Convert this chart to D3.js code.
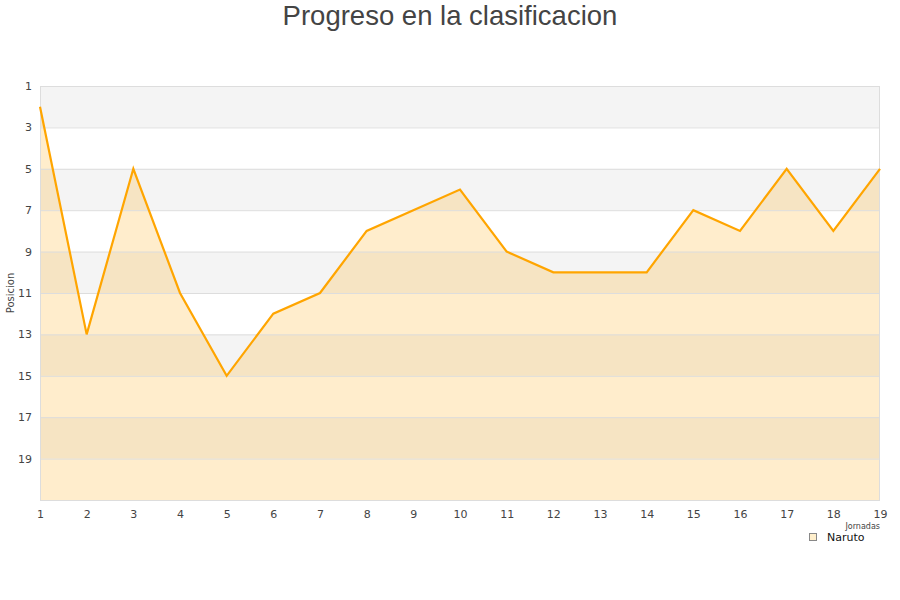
<!DOCTYPE html>
<html><head><meta charset="utf-8">
<script src="https://cdn.jsdelivr.net/npm/d3@7/dist/d3.min.js"></script>
<style>body{margin:0;background:#fff;} svg{display:block;}</style>
</head><body>
<svg id="c" width="900" height="600"></svg>
<script>
const jornadas = [1,2,3,4,5,6,7,8,9,10,11,12,13,14,15,16,17,18,19];
const posiciones = [2,13,5,11,15,12,11,8,7,6,9,10,10,10,7,8,5,8,5];
const yTicks = [1,3,5,7,9,11,13,15,17,19];
const seriesName = "Naruto";
const title = "Progreso en la clasificacion";

const svg = d3.select("#c");
const m = {l:40, r:20, t:86, b:100};
const W = 900, H = 600;
const x = d3.scaleLinear().domain([1,19]).range([m.l, W-m.r]);
const y = d3.scaleLinear().domain([1,21]).range([m.t, H-m.b]);

// bands
const bands = d3.range(1,21,2);
svg.selectAll("rect.band").data(bands).join("rect")
  .attr("x", x(1)).attr("width", x(19)-x(1))
  .attr("y", d=>y(d)).attr("height", d=>y(d+2)-y(d))
  .attr("fill", (d,i)=> i%2===0 ? "#f4f4f4" : "#ffffff");

// area
const area = d3.area().x((d,i)=>x(jornadas[i])).y0(y(21)).y1(d=>y(d));
svg.append("path").datum(posiciones).attr("d", area)
  .attr("fill", "rgba(255,165,0,0.2)");

// grid lines
svg.selectAll("line.grid").data(yTicks.concat([21])).join("line")
  .attr("x1", x(1)).attr("x2", x(19))
  .attr("y1", d=>y(d)+0.5).attr("y2", d=>y(d)+0.5)
  .attr("stroke", "#dddddd").attr("stroke-width", 1);
svg.append("rect").attr("x", x(1)+0.5).attr("y", y(1)+0.5)
  .attr("width", x(19)-x(1)-1).attr("height", y(21)-y(1))
  .attr("fill","none").attr("stroke","#dddddd");

// line
const line = d3.line().x((d,i)=>x(jornadas[i])).y(d=>y(d));
svg.append("path").datum(posiciones).attr("d", line)
  .attr("fill","none").attr("stroke","#FFA500").attr("stroke-width",2.2)
  .attr("stroke-linejoin","miter");

// axes
const yAxis = d3.axisLeft(y).tickValues(yTicks).tickSize(0).tickPadding(8);
const gy = svg.append("g").attr("transform",`translate(${m.l},0)`).call(yAxis);
gy.select(".domain").remove();
gy.selectAll("text").attr("font-family","DejaVu Sans, sans-serif").attr("font-size",11).attr("fill","#444");

const xAxis = d3.axisBottom(x).tickValues(jornadas).tickFormat(d3.format("d")).tickSize(0).tickPadding(10);
const gx = svg.append("g").attr("transform",`translate(0,${y(21)})`).call(xAxis);
gx.select(".domain").remove();
gx.selectAll("text").attr("font-family","DejaVu Sans, sans-serif").attr("font-size",11).attr("fill","#444");

// axis titles
svg.append("text").attr("transform","translate(14,293) rotate(-90)")
  .attr("text-anchor","middle").attr("font-family","DejaVu Sans, sans-serif")
  .attr("font-size",10).attr("fill","#444").text("Posicion");

svg.append("text").attr("x", 880).attr("y", 529).attr("text-anchor","end")
  .attr("font-family","DejaVu Sans, sans-serif").attr("font-size",8).attr("fill","#444")
  .text("Jornadas");

// legend
const lg = svg.append("g");
lg.append("rect").attr("x",809.5).attr("y",533.5).attr("width",7).attr("height",7)
  .attr("fill","#FFEFCC").attr("stroke","#888").attr("stroke-width",1);
lg.append("text").attr("x",827).attr("y",541).attr("font-family","DejaVu Sans, sans-serif")
  .attr("font-size",11).attr("fill","#111").text(seriesName);

// title
svg.append("text").attr("x",450).attr("y",25).attr("text-anchor","middle")
  .attr("font-family","Liberation Sans, Arial, sans-serif").attr("font-size",27.5)
  .attr("fill","#444").text(title);
</script>
</body></html>
